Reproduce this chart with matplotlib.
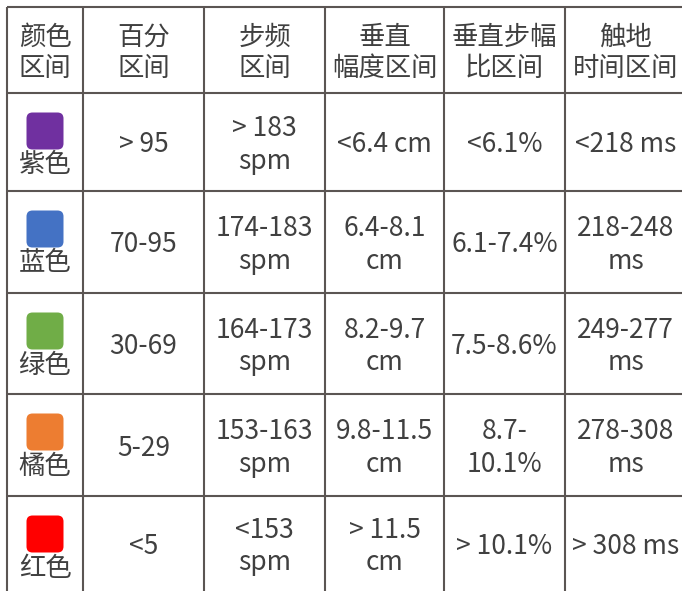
import matplotlib
matplotlib.use("Agg")
import matplotlib.pyplot as plt
from matplotlib.patches import FancyBboxPatch

plt.rcParams['font.family'] = ['Noto Sans CJK SC', 'DejaVu Sans']

headers = ['颜色\n区间', '百分\n区间', '步频\n区间', '垂直\n幅度区间', '垂直步幅\n比区间', '触地\n时间区间']
color_names = ['紫色', '蓝色', '绿色', '橘色', '红色']
swatch_colors = ['#7030a0', '#4472c4', '#70ad47', '#ed7d31', '#ff0000']
percent = ['> 95', '70-95', '30-69', '5-29', '<5']
cadence = ['> 183\nspm', '174-183\nspm', '164-173\nspm', '153-163\nspm', '<153\nspm']
vert_osc = ['<6.4 cm', '6.4-8.1\ncm', '8.2-9.7\ncm', '9.8-11.5\ncm', '> 11.5\ncm']
vert_ratio = ['<6.1%', '6.1-7.4%', '7.5-8.6%', '8.7-\n10.1%', '> 10.1%']
gct = ['<218 ms', '218-248\nms', '249-277\nms', '278-308\nms', '> 308 ms']

# grid layout in pixels
col_edges = [7, 83, 204, 325, 444, 565, 686]
row_edges = [7, 93, 191, 293, 394, 496, 591]

W, H = 682, 591
fig = plt.figure(figsize=(W / 100, H / 100), dpi=100)
ax = fig.add_axes([0, 0, 1, 1])
ax.set_xlim(0, W)
ax.set_ylim(H, 0)
ax.axis('off')

line_c = '#5b5553'
text_c = '#404040'
fs = 19

for x in col_edges[:-1]:
    ax.plot([x, x], [row_edges[0], H], color=line_c, lw=1.5, solid_capstyle='butt')
for y in row_edges[:-1]:
    ax.plot([col_edges[0], W], [y, y], color=line_c, lw=1.5, solid_capstyle='butt')

def cx(i):
    return (col_edges[i] + col_edges[i + 1]) / 2

def cy(j):
    return (row_edges[j] + row_edges[j + 1]) / 2

for i, h in enumerate(headers):
    ax.text(cx(i), cy(0) + 3, h, ha='center', va='center', fontsize=fs,
            color=text_c, linespacing=1.2, fontweight='light')

columns = [percent, cadence, vert_osc, vert_ratio, gct]
for j in range(len(color_names)):
    top = row_edges[j + 1]
    sz = 37
    box = FancyBboxPatch((cx(0) - sz / 2, top + 38 - sz / 2), sz, sz,
                         boxstyle='round,pad=0,rounding_size=6',
                         fc=swatch_colors[j], ec='none')
    ax.add_patch(box)
    ax.text(cx(0), top + 72, color_names[j], ha='center', va='center',
            fontsize=fs, color=text_c, fontweight='light')
    for i, col in enumerate(columns):
        ax.text(cx(i + 1), cy(j + 1) + 3, col[j], ha='center', va='center',
                fontsize=fs, color=text_c, linespacing=1.27, fontweight='light')

fig.savefig('out.png', dpi=100, facecolor='white')
